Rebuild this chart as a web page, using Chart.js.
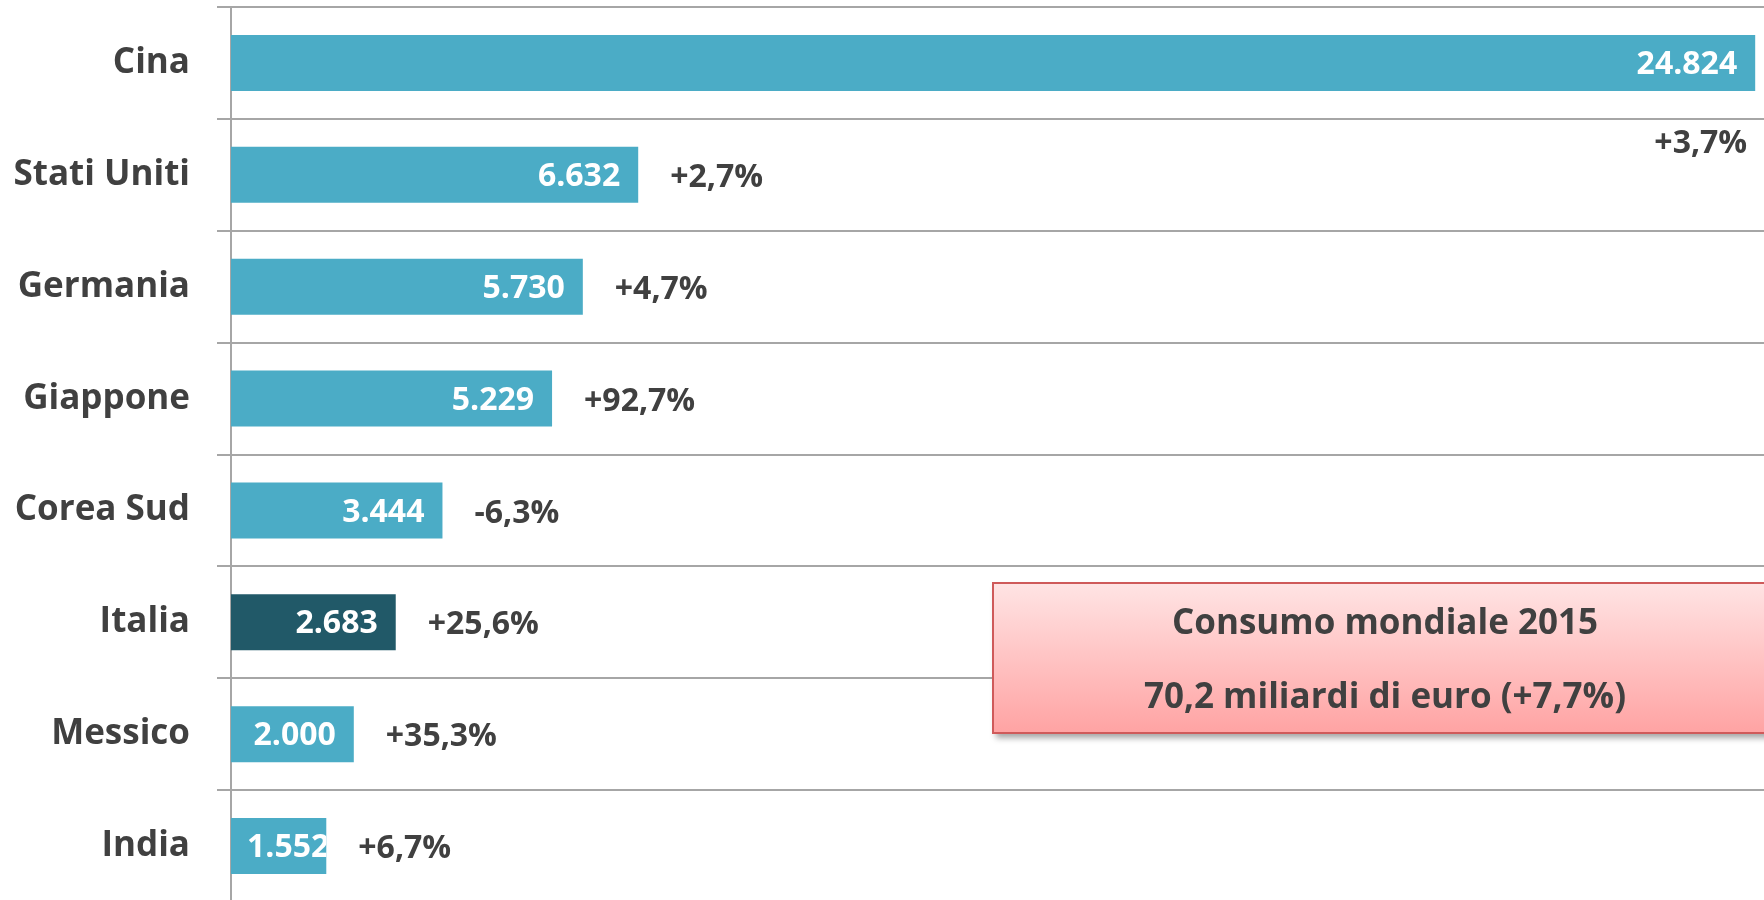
<!DOCTYPE html>
<html>
<head>
<meta charset="utf-8">
<script src="https://cdn.jsdelivr.net/npm/chart.js@4.4.1/dist/chart.umd.min.js"></script>
<style>
  html, body { margin: 0; padding: 0; background: #ffffff; overflow: hidden; }
  #wrap { position: relative; width: 1764px; height: 900px; overflow: hidden; }
  #cv { position: absolute; left: 0; top: 0; }
</style>
</head>
<body>
<div id="wrap"><canvas id="cv" width="1766" height="902" style="width:1766px;height:902px"></canvas></div>
<script>
// ---- data ----
const categories = ['Cina', 'Stati Uniti', 'Germania', 'Giappone', 'Corea Sud', 'Italia', 'Messico', 'India'];
const values = [24824, 6632, 5730, 5229, 3444, 2683, 2000, 1552];
const growth = ['+3,7%', '+2,7%', '+4,7%', '+92,7%', '-6,3%', '+25,6%', '+35,3%', '+6,7%'];
const highlight = 'Italia';
const boxLines = ['Consumo mondiale 2015', '70,2 miliardi di euro (+7,7%)'];
const xMax = 25000;

// ---- styles ----
const BAR = '#4BACC6';
const BAR_DARK = '#215968';
const TEXT = '#404040';
const GRID = '#A6A6A6';
const FONT = '"Open Sans", Lato, sans-serif';

function fmt(n) { return String(n).replace(/\B(?=(\d{3})+(?!\d))/g, '.'); }

const labelPlugin = {
  id: 'barLabels',
  afterDatasetsDraw(chart) {
    const ctx = chart.ctx;
    const area = chart.chartArea;
    const meta = chart.getDatasetMeta(0);
    const ys = chart.scales.y;
    const catH = ys.getPixelForTick(1) - ys.getPixelForTick(0);
    meta.data.forEach((bar, i) => {
      const p = bar.getProps(['x', 'y', 'base', 'height'], true);
      const top = p.y - p.height / 2;
      // value inside bar
      ctx.save();
      ctx.beginPath();
      ctx.rect(p.base, top, p.x - p.base, p.height);
      ctx.clip();
      ctx.font = '700 32px ' + FONT;
      ctx.fillStyle = '#ffffff';
      ctx.textBaseline = 'middle';
      ctx.textAlign = 'right';
      const txt = fmt(values[i]);
      const w = ctx.measureText(txt).width;
      let right = p.x - 18;
      if (right - w < p.base + 16) right = p.base + 16 + w;
      ctx.fillText(txt, right, p.y + 2);
      ctx.restore();
      // growth label
      ctx.save();
      ctx.font = '700 32px ' + FONT;
      ctx.fillStyle = TEXT;
      ctx.textBaseline = 'middle';
      const g = growth[i];
      const gw = ctx.measureText(g).width;
      if (p.x + 32 + gw <= area.right) {
        ctx.textAlign = 'left';
        ctx.fillText(g, p.x + 32, p.y + 3);
      } else {
        ctx.textAlign = 'right';
        ctx.fillText(g, p.x - 8, p.y + catH * 0.72);
      }
      ctx.restore();
    });
  }
};

const boxPlugin = {
  id: 'infoBox',
  afterDraw(chart, args, opts) {
    const ctx = chart.ctx;
    const { left, top, right, bottom } = opts;
    ctx.save();
    const grad = ctx.createLinearGradient(0, top, 0, bottom);
    grad.addColorStop(0, '#FFE4E4');
    grad.addColorStop(1, '#FFA3A3');
    ctx.shadowColor = 'rgba(0,0,0,0.35)';
    ctx.shadowBlur = 6;
    ctx.shadowOffsetX = 3;
    ctx.shadowOffsetY = 5;
    ctx.fillStyle = grad;
    ctx.fillRect(left, top, right - left, bottom - top);
    ctx.shadowColor = 'transparent';
    ctx.lineWidth = 2;
    ctx.strokeStyle = '#CF5A5A';
    ctx.strokeRect(left, top, right - left, bottom - top);
    ctx.fillStyle = TEXT;
    ctx.font = '700 35px ' + FONT;
    ctx.textAlign = 'center';
    ctx.textBaseline = 'alphabetic';
    const cx = (left + right) / 2;
    ctx.fillText(boxLines[0], cx, top + 51);
    ctx.fillText(boxLines[1], cx, top + 125);
    ctx.restore();
  }
};

new Chart(document.getElementById('cv'), {
  type: 'bar',
  data: {
    labels: categories,
    datasets: [{
      data: values,
      backgroundColor: categories.map(c => c === highlight ? BAR_DARK : BAR),
      borderWidth: 0,
      barPercentage: 0.5,
      categoryPercentage: 1.0
    }]
  },
  options: {
    indexAxis: 'y',
    responsive: false,
    devicePixelRatio: 1,
    animation: false,
    layout: { padding: { top: 7, left: 0, right: 0, bottom: 0 } },
    plugins: {
      legend: { display: false },
      tooltip: { enabled: false },
      infoBox: { left: 993, top: 583, right: 1777, bottom: 733 }
    },
    scales: {
      x: { display: false, min: 0, max: xMax },
      y: {
        grid: { offset: true, color: GRID, lineWidth: 2, tickLength: 14, drawTicks: true },
        border: { display: true, color: GRID, width: 2 },
        ticks: { font: { family: FONT, weight: '700', size: 35 }, color: TEXT, padding: 27 },
        afterFit(scale) {
          scale.width = 231;
          scale.paddingTop = 0;
          scale.paddingBottom = 0;
        }
      }
    }
  },
  plugins: [labelPlugin, boxPlugin]
});
</script>
</body>
</html>
